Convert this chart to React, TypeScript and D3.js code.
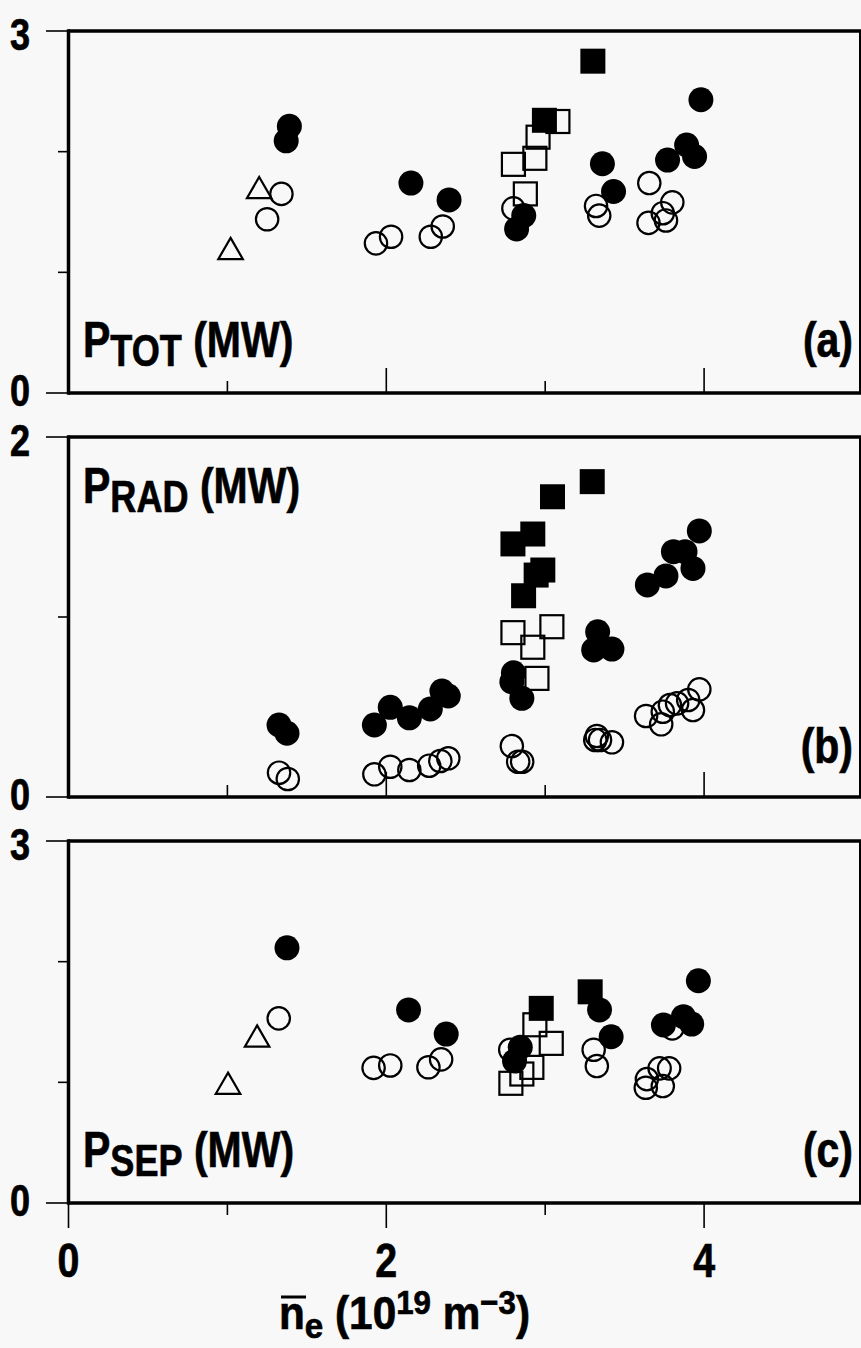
import React from "react";
import * as d3 from "d3";

type Pt = [number, number];

// ---- P_TOT (MW) vs line-averaged density ----
const ptotOpenCircles: Pt[] = [
  [1.34, 1.65], [1.25, 1.44], [1.935, 1.24], [2.03, 1.295], [2.28, 1.295],
  [2.355, 1.38], [2.8, 1.53], [3.32, 1.55], [3.34, 1.47], [3.655, 1.74],
  [3.65, 1.41], [3.74, 1.49], [3.76, 1.43], [3.8, 1.58],
];
const ptotFilledCircles: Pt[] = [
  [1.39, 2.21], [1.37, 2.09], [2.155, 1.74], [2.395, 1.6], [2.865, 1.47],
  [2.82, 1.36], [3.36, 1.9], [3.43, 1.67], [3.77, 1.93], [3.89, 2.055],
  [3.94, 1.96], [3.98, 2.43],
];
const ptotOpenSquares: Pt[] = [
  [3.08, 2.25], [2.955, 2.12], [2.935, 1.945], [2.8, 1.895], [2.875, 1.65],
];
const ptotFilledSquares: Pt[] = [[3.3, 2.75], [2.995, 2.26]];
const ptotTriangles: Pt[] = [[1.2, 1.69], [1.02, 1.185]];

// ---- P_RAD (MW) ----
const pradOpenCircles: Pt[] = [
  [1.325, 0.135], [1.38, 0.1], [1.925, 0.126], [2.025, 0.168], [2.145, 0.15],
  [2.27, 0.174], [2.34, 0.2], [2.39, 0.215], [2.79, 0.283], [2.83, 0.196],
  [2.855, 0.196], [3.325, 0.339], [3.315, 0.317], [3.345, 0.317], [3.42, 0.304],
  [3.635, 0.45], [3.73, 0.404], [3.74, 0.474], [3.785, 0.511], [3.83, 0.52],
  [3.9, 0.539], [3.93, 0.483], [3.97, 0.598],
];
const pradFilledCircles: Pt[] = [
  [1.325, 0.4], [1.375, 0.354], [1.925, 0.4], [2.025, 0.498], [2.145, 0.44],
  [2.277, 0.489], [2.35, 0.589], [2.39, 0.561], [2.8, 0.69], [2.79, 0.64],
  [2.853, 0.548], [3.33, 0.918], [3.305, 0.817], [3.42, 0.822], [3.97, 1.478],
  [3.88, 1.363], [3.807, 1.363], [3.93, 1.27], [3.76, 1.228], [3.643, 1.178],
];
const pradOpenSquares: Pt[] = [
  [2.797, 0.913], [3.042, 0.946], [2.922, 0.832], [2.948, 0.659],
];
const pradFilledSquares: Pt[] = [
  [3.296, 1.752], [3.046, 1.668], [2.922, 1.461], [2.797, 1.406],
  [2.985, 1.261], [2.943, 1.233], [2.864, 1.118],
];
const pradTriangles: Pt[] = [];

// ---- P_SEP (MW) ----
const psepOpenCircles: Pt[] = [
  [1.323, 1.53], [1.92, 1.12], [2.025, 1.14], [2.265, 1.125], [2.345, 1.19],
  [2.78, 1.27], [3.305, 1.27], [3.325, 1.135], [3.8, 1.447], [3.64, 1.027],
  [3.633, 0.955], [3.72, 1.116], [3.78, 1.116], [3.74, 0.969],
];
const psepFilledCircles: Pt[] = [
  [1.375, 2.115], [2.14, 1.6], [2.377, 1.4], [2.843, 1.29], [2.807, 1.176],
  [3.342, 1.6], [3.415, 1.378], [3.964, 1.842], [3.744, 1.475], [3.87, 1.544],
  [3.922, 1.483],
];
const psepOpenSquares: Pt[] = [
  [2.935, 1.477], [3.038, 1.323], [2.916, 1.124], [2.853, 1.069], [2.784, 0.992],
];
const psepFilledSquares: Pt[] = [[3.283, 1.75], [2.975, 1.613]];
const psepTriangles: Pt[] = [[1.187, 1.371], [1.004, 0.98]];

// ---- axes ----
const xDomain: [number, number] = [0, 5];
const xMinorTicks = [1, 2, 3, 4];
const xBottomTicks = [0, 1, 2, 3, 4];
const xTickLabels = [0, 2, 4];

const FONT = "'Liberation Sans', Arial, Helvetica, sans-serif";
const INK = "#000";
const BG = "#f8f8f8";

const W = 861;
const H = 1348;
const X0 = 68.5;
const x = d3.scaleLinear().domain(xDomain).range([X0, 863]);

type Panel = {
  key: string;
  yMax: number;
  top: number;
  bottom: number;
  sub: string;
  tag: string;
  labelBase: number;
  tagBase: number;
  openCircles: Pt[];
  filledCircles: Pt[];
  openSquares: Pt[];
  filledSquares: Pt[];
  triangles: Pt[];
  innerTicks: boolean;
};

const panels: Panel[] = [
  {
    key: "a", yMax: 3, top: 31, bottom: 393, sub: "TOT", tag: "(a)",
    labelBase: 357, tagBase: 357,
    openCircles: ptotOpenCircles, filledCircles: ptotFilledCircles,
    openSquares: ptotOpenSquares, filledSquares: ptotFilledSquares,
    triangles: ptotTriangles, innerTicks: true,
  },
  {
    key: "b", yMax: 2, top: 437, bottom: 797, sub: "RAD", tag: "(b)",
    labelBase: 503, tagBase: 763,
    openCircles: pradOpenCircles, filledCircles: pradFilledCircles,
    openSquares: pradOpenSquares, filledSquares: pradFilledSquares,
    triangles: pradTriangles, innerTicks: true,
  },
  {
    key: "c", yMax: 3, top: 841, bottom: 1203, sub: "SEP", tag: "(c)",
    labelBase: 1167, tagBase: 1167,
    openCircles: psepOpenCircles, filledCircles: psepFilledCircles,
    openSquares: psepOpenSquares, filledSquares: psepFilledSquares,
    triangles: psepTriangles, innerTicks: false,
  },
];

const SX = 0.82; // horizontal squeeze to get a condensed bold face

function Txt(props: {
  x: number; y: number; size: number; anchor?: string; sx?: number;
  children: React.ReactNode;
}) {
  const { x: tx, y: ty, size, anchor = "start", sx = SX, children } = props;
  return (
    <g transform={`translate(${tx},${ty}) scale(${sx},1)`}>
      <text
        x={0} y={0} fontFamily={FONT} fontWeight={700} fontSize={size}
        textAnchor={anchor} fill={INK} stroke={INK} strokeWidth={0.7}
      >
        {children}
      </text>
    </g>
  );
}

const R_OPEN = 11.2;
const R_FILL = 12.5;
const SQ_OPEN = 23;
const SQ_FILL = 25;
const MS = 2.2;

function PanelView({ p }: { p: Panel }) {
  const y = d3.scaleLinear().domain([0, p.yMax]).range([p.bottom, p.top]);
  const minors = d3.range(1, p.yMax);
  const tri = d3.symbol().type(d3.symbolTriangle).size(260);
  return (
    <g>
      {/* frame */}
      <line x1={X0} x2={W} y1={p.top} y2={p.top} stroke={INK} strokeWidth={3.5} />
      <line x1={X0} x2={W} y1={p.bottom} y2={p.bottom} stroke={INK} strokeWidth={3.5} />
      <line x1={X0} x2={X0} y1={p.top - 1.75} y2={p.bottom + 1.75} stroke={INK} strokeWidth={3.5} />
      <line x1={860} x2={860} y1={p.top} y2={p.bottom} stroke={INK} strokeWidth={2} />

      {/* y ticks */}
      {[0, p.yMax].map((v) => (
        <line key={`yt${v}`} x1={46} x2={X0} y1={y(v)} y2={y(v)} stroke={INK} strokeWidth={1.6} />
      ))}
      {minors.map((v) => (
        <line key={`ym${v}`} x1={58} x2={X0} y1={y(v)} y2={y(v)} stroke={INK} strokeWidth={1.6} />
      ))}
      {[0, p.yMax].map((v) => (
        <Txt key={`yl${v}`} x={20} y={y(v) + (v === 0 ? 13 : 19)} size={44} anchor="middle">
          {String(v)}
        </Txt>
      ))}

      {/* x ticks */}
      {p.innerTicks
        ? xMinorTicks.map((v) => (
            <line key={`xt${v}`} x1={x(v)} x2={x(v)} y1={p.bottom}
              y2={p.bottom - (v % 2 === 0 ? 25 : 12)} stroke={INK} strokeWidth={1.6} />
          ))
        : xBottomTicks.map((v) => (
            <line key={`xt${v}`} x1={x(v)} x2={x(v)} y1={p.bottom}
              y2={p.bottom + (v % 2 === 0 ? 25 : 12)} stroke={INK} strokeWidth={1.6} />
          ))}

      {/* markers */}
      {p.openCircles.map(([a, b], i) => (
        <circle key={`oc${i}`} cx={x(a)} cy={y(b)} r={R_OPEN} fill="none" stroke={INK} strokeWidth={MS} />
      ))}
      {p.openSquares.map(([a, b], i) => (
        <rect key={`os${i}`} x={x(a) - SQ_OPEN / 2} y={y(b) - SQ_OPEN / 2} width={SQ_OPEN} height={SQ_OPEN}
          fill="none" stroke={INK} strokeWidth={MS} />
      ))}
      {p.filledCircles.map(([a, b], i) => (
        <circle key={`fc${i}`} cx={x(a)} cy={y(b)} r={R_FILL} fill={INK} />
      ))}
      {p.filledSquares.map(([a, b], i) => (
        <rect key={`fs${i}`} x={x(a) - SQ_FILL / 2} y={y(b) - SQ_FILL / 2} width={SQ_FILL} height={SQ_FILL} fill={INK} />
      ))}
      {p.triangles.map(([a, b], i) => (
        <path key={`tr${i}`} d={tri() as string} transform={`translate(${x(a)},${y(b) + 2})`}
          fill="none" stroke={INK} strokeWidth={MS} />
      ))}

      {/* panel labels */}
      <Txt x={83} y={p.labelBase} size={50}>
        P<tspan fontSize={44} dy={9}>{p.sub}</tspan>
        <tspan fontSize={50} dy={-9}> (MW)</tspan>
      </Txt>
      <Txt x={853} y={p.tagBase} size={50} anchor="end">
        {p.tag}
      </Txt>
    </g>
  );
}

export default function App() {
  const last = panels[panels.length - 1];
  const titleX = 279;
  const titleBase = 1329;
  const titleSX = 0.92;
  return (
    <svg width={W} height={H} viewBox={`0 0 ${W} ${H}`}
      style={{ position: "absolute", left: 0, top: 0, display: "block" }}>
      <rect x={0} y={0} width={W} height={H} fill={BG} />
      {panels.map((p) => (
        <PanelView key={p.key} p={p} />
      ))}
      {xTickLabels.map((v) => (
        <Txt key={`xl${v}`} x={x(v)} y={last.bottom + 74} size={48} anchor="middle">
          {String(v)}
        </Txt>
      ))}
      {/* axis title: line-averaged density */}
      <line x1={titleX + 2} x2={titleX + 27} y1={1297} y2={1297} stroke={INK} strokeWidth={3} />
      <Txt x={titleX} y={titleBase} size={46} sx={titleSX}>
        n<tspan fontSize={36} dy={9}>e</tspan>
        <tspan fontSize={46} dy={-9}> (10</tspan>
        <tspan fontSize={34} dy={-15}>19</tspan>
        <tspan fontSize={46} dy={15}> m</tspan>
        <tspan fontSize={34} dy={-15}>−3</tspan>
        <tspan fontSize={46} dy={15}>)</tspan>
      </Txt>
    </svg>
  );
}
